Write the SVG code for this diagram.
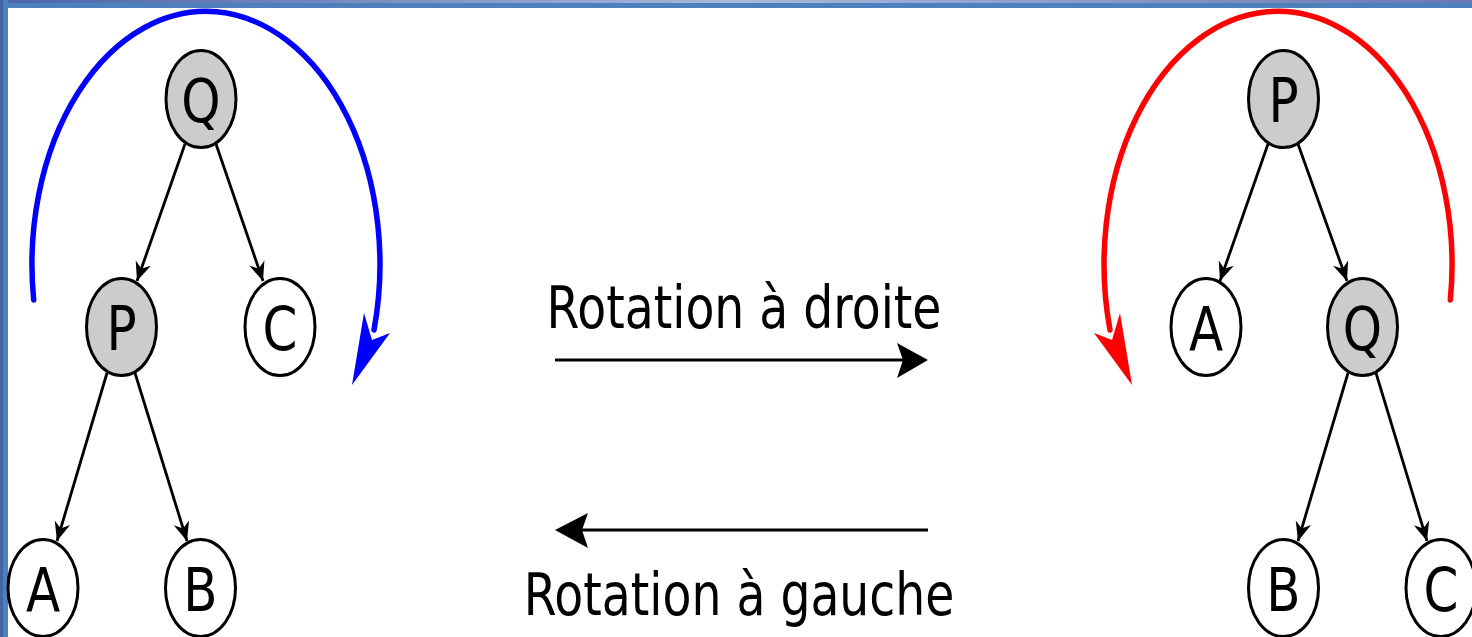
<svg xmlns="http://www.w3.org/2000/svg" width="1472" height="637" viewBox="0 0 1472 637">
<style>
.node{stroke:#000;stroke-width:3}
.grey{fill:#cccccc}
.white{fill:#ffffff}
.lbl{font-family:"DejaVu Sans",sans-serif;font-size:50px;fill:#000;text-anchor:middle}
.cap{font-family:"DejaVu Sans",sans-serif;font-size:47.3px;fill:#000;text-anchor:middle}
.edge{stroke:#000;stroke-width:2.8;fill:none;marker-end:url(#ah)}
.mid{stroke:#000;stroke-width:2.8;fill:none}
</style>
<defs>
<marker id="ah" markerUnits="userSpaceOnUse" orient="auto" markerWidth="24" markerHeight="20" viewBox="-21 -10 23 20" refX="0" refY="0">
<path d="M0,0 L-19,-8 L-13,0 L-19,8 Z" fill="#000"/>
</marker>
<linearGradient id="topg" x1="0" y1="0" x2="1" y2="0">
<stop offset="0" stop-color="#4a64a8"/>
<stop offset="0.5" stop-color="#a9b9da"/>
<stop offset="1" stop-color="#6a78b4"/>
</linearGradient>
</defs>
<rect x="0" y="0" width="1472" height="637" fill="#ffffff"/>
<g id="frame">
<rect x="0" y="0" width="1472" height="8" fill="#4f80be"/>
<rect x="0" y="0" width="1472" height="3" fill="url(#topg)"/>
<rect x="0" y="0" width="8" height="637" fill="#4f80be"/>
<rect x="0" y="0" width="3" height="637" fill="#4464a4"/>
</g>
<g id="connectors">
<path class="edge" d="M185,144 L137,281"/>
<path class="edge" d="M216,144 L263,281"/>
<path class="edge" d="M107,373 L57,541"/>
<path class="edge" d="M135,373 L187,541"/>
<path class="edge" d="M1268,144 L1220,281"/>
<path class="edge" d="M1298,144 L1347,281"/>
<path class="edge" d="M1348,373 L1298,541"/>
<path class="edge" d="M1376,373 L1427,541"/>
</g>
<g id="rotation-arcs">
<path d="M33.7,300 A174,253 0 1 1 374,330" fill="none" stroke="#0000ff" stroke-width="5.5" stroke-linecap="round"/>
<path d="M352,385 L364,313 L372,340 L390,333 Z" fill="#0000ff"/>
<path d="M1450.3,300 A174,253 0 1 0 1110,330" fill="none" stroke="#ff0000" stroke-width="5.5" stroke-linecap="round"/>
<path d="M1132,385 L1120,313 L1112,340 L1094,333 Z" fill="#ff0000"/>
</g>
<g id="rotation-arrows">
<path class="mid" d="M555,360 L904,360"/>
<path d="M928,360 L897,343 L903,360 L897,378 Z" fill="#000"/>
<path class="mid" d="M582,530 L928,530"/>
<path d="M555,530 L588,513 L582,530 L588,548 Z" fill="#000"/>
<text class="cap" transform="translate(744,328) scale(1,1.25)">Rotation à droite</text>
<text class="cap" transform="translate(739,615) scale(1,1.25)">Rotation à gauche</text>
</g>
<g id="L-Q"><ellipse class="node grey" cx="201" cy="99" rx="35" ry="48.5"/><text class="lbl" transform="translate(201,122) scale(1,1.2)">Q</text></g>
<g id="L-P"><ellipse class="node grey" cx="121.5" cy="327" rx="35" ry="48.5"/><text class="lbl" transform="translate(121.5,350) scale(1,1.2)">P</text></g>
<g id="L-C"><ellipse class="node white" cx="280" cy="327" rx="35" ry="48.5"/><text class="lbl" transform="translate(280,350) scale(1,1.2)">C</text></g>
<g id="L-A"><ellipse class="node white" cx="43" cy="588" rx="35" ry="48.5"/><text class="lbl" transform="translate(43,611) scale(1,1.2)">A</text></g>
<g id="L-B"><ellipse class="node white" cx="200.5" cy="588" rx="35" ry="48.5"/><text class="lbl" transform="translate(200.5,611) scale(1,1.2)">B</text></g>
<g id="R-P"><ellipse class="node grey" cx="1283.5" cy="99" rx="35" ry="48.5"/><text class="lbl" transform="translate(1283.5,122) scale(1,1.2)">P</text></g>
<g id="R-A"><ellipse class="node white" cx="1206" cy="327" rx="35" ry="48.5"/><text class="lbl" transform="translate(1206,350) scale(1,1.2)">A</text></g>
<g id="R-Q"><ellipse class="node grey" cx="1362.5" cy="327" rx="35" ry="48.5"/><text class="lbl" transform="translate(1362.5,350) scale(1,1.2)">Q</text></g>
<g id="R-B"><ellipse class="node white" cx="1283.5" cy="588" rx="35" ry="48.5"/><text class="lbl" transform="translate(1283.5,611) scale(1,1.2)">B</text></g>
<g id="R-C"><ellipse class="node white" cx="1441" cy="588" rx="35" ry="48.5"/><text class="lbl" transform="translate(1441,611) scale(1,1.2)">C</text></g>
</svg>
